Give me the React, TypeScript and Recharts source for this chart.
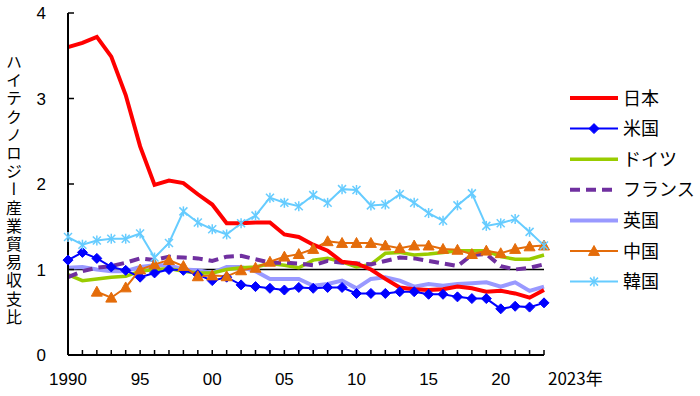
import React from "react";
import { LineChart, Line, XAxis, YAxis, ReferenceLine } from "recharts";

const years = [1990,1991,1992,1993,1994,1995,1996,1997,1998,1999,2000,2001,2002,2003,2004,2005,2006,2007,2008,2009,2010,2011,2012,2013,2014,2015,2016,2017,2018,2019,2020,2021,2022,2023];
const japan = [3.60,3.65,3.72,3.49,3.04,2.44,1.99,2.04,2.01,1.88,1.76,1.54,1.54,1.55,1.55,1.41,1.38,1.29,1.22,1.09,1.07,1.00,0.89,0.79,0.77,0.76,0.77,0.80,0.78,0.74,0.75,0.72,0.67,0.76];
const us = [1.11,1.20,1.13,1.03,0.99,0.91,0.96,1.00,0.99,0.94,0.87,0.91,0.82,0.80,0.78,0.76,0.79,0.78,0.79,0.79,0.72,0.72,0.72,0.74,0.74,0.71,0.71,0.68,0.66,0.66,0.54,0.57,0.56,0.61];
const germany = [0.94,0.87,0.89,0.91,0.92,0.98,1.00,1.01,0.98,0.96,0.96,1.00,1.02,1.03,1.07,1.05,1.02,1.11,1.13,1.09,1.03,1.06,1.19,1.20,1.17,1.18,1.20,1.22,1.22,1.22,1.15,1.12,1.12,1.17];
const france = [0.91,0.98,1.02,1.04,1.08,1.13,1.11,1.15,1.14,1.13,1.10,1.15,1.16,1.12,1.08,1.08,1.07,1.05,1.10,1.08,1.07,1.06,1.10,1.14,1.13,1.10,1.07,1.04,1.17,1.18,1.04,1.00,1.02,1.06];
const uk = [1.02,1.03,1.00,0.98,0.98,1.03,1.05,1.05,1.00,0.99,0.96,1.03,1.03,0.98,0.89,0.89,0.89,0.81,0.83,0.87,0.78,0.89,0.91,0.87,0.80,0.83,0.81,0.83,0.84,0.85,0.80,0.85,0.75,0.80];
const china = [null,null,0.74,0.67,0.79,1.00,1.06,1.11,1.04,0.92,0.93,0.92,0.99,1.02,1.09,1.15,1.18,1.24,1.33,1.31,1.31,1.31,1.28,1.25,1.28,1.28,1.24,1.23,1.18,1.22,1.19,1.24,1.27,1.28];
const korea = [1.38,1.29,1.34,1.36,1.36,1.42,1.14,1.31,1.68,1.55,1.47,1.41,1.54,1.63,1.84,1.78,1.74,1.87,1.78,1.94,1.93,1.75,1.76,1.88,1.78,1.66,1.57,1.75,1.89,1.51,1.54,1.59,1.44,1.28];

const yTicks = [0, 1, 2, 3, 4];
const labeledYears = [1990, 1995, 2000, 2005, 2010, 2015, 2020];
const lastYearLabel = "2023年";
const yTitle = "ハイテクノロジー産業貿易収支比";

const data = years.map((y, i) => ({
  year: y,
  japan: japan[i],
  us: us[i],
  germany: germany[i],
  france: france[i],
  uk: uk[i],
  china: china[i],
  korea: korea[i],
}));

const NUM_FONT = "'Liberation Sans', Arial, sans-serif";
const JP_FONT = "'Noto Sans CJK JP', sans-serif";

const C = {
  japan: "#ff0000",
  us: "#0000ff",
  germany: "#99cc00",
  france: "#7030a0",
  uk: "#9999ff",
  china: "#e46c0a",
  korea: "#66ccff",
};

const Diamond = ({ cx, cy, s = 5, color }: any) => (
  <polygon points={`${cx},${cy - s} ${cx + s},${cy} ${cx},${cy + s} ${cx - s},${cy}`} fill={color} stroke={color} />
);
const Triangle = ({ cx, cy, s = 5.5, color }: any) => (
  <polygon points={`${cx},${cy - s} ${cx + s},${cy + s * 0.8} ${cx - s},${cy + s * 0.8}`} fill={color} stroke={color} />
);
const Star = ({ cx, cy, s = 4, color }: any) => (
  <g stroke={color} strokeWidth={1.5}>
    <line x1={cx - s} y1={cy - s} x2={cx + s} y2={cy + s} />
    <line x1={cx - s} y1={cy + s} x2={cx + s} y2={cy - s} />
    <line x1={cx} y1={cy - s - 1} x2={cx} y2={cy + s + 1} />
  </g>
);

const dotFn = (Comp: any, color: string) => (props: any) => {
  const { cx, cy, key, index } = props;
  if (cx == null || cy == null || props.value == null) return <g key={key ?? index} />;
  return (
    <g key={key ?? index}>
      <Comp cx={cx} cy={cy} color={color} />
    </g>
  );
};

const XTick = (props: any) => {
  const { x, y, payload } = props;
  const v = payload.value as number;
  let label: string | null = null;
  if (labeledYears.includes(v)) label = v === 1990 ? "1990" : String(v % 100).padStart(2, "0");
  return (
    <g>
      <line x1={x} x2={x} y1={y} y2={y - 5} stroke="#000" strokeWidth={1.5} />
      {label && (
        <text x={x} y={y + 30} textAnchor="middle" fontFamily={NUM_FONT} fontSize={17} fill="#000">
          {label}
        </text>
      )}
      {v === 2023 && (
        <text x={x + 4} y={y + 30} textAnchor="start" fontFamily={JP_FONT} fontSize={17} fill="#000">
          {lastYearLabel}
        </text>
      )}
    </g>
  );
};

const YTick = (props: any) => {
  const { x, y, payload } = props;
  return (
    <g>
      <line x1={x} x2={x + 6} y1={y} y2={y} stroke="#000" strokeWidth={1.5} />
      <text x={x - 22} y={y + 6} textAnchor="end" fontFamily={NUM_FONT} fontSize={17} fill="#000">
        {payload.value}
      </text>
    </g>
  );
};

const legendItems = [
  { name: "日本", color: C.japan, width: 4, dash: undefined, marker: null },
  { name: "米国", color: C.us, width: 2, dash: undefined, marker: Diamond },
  { name: "ドイツ", color: C.germany, width: 3.5, dash: undefined, marker: null },
  { name: "フランス", color: C.france, width: 4, dash: "10 6", marker: null },
  { name: "英国", color: C.uk, width: 4, dash: undefined, marker: null },
  { name: "中国", color: C.china, width: 2, dash: undefined, marker: Triangle },
  { name: "韓国", color: C.korea, width: 2, dash: undefined, marker: Star },
];

export default function App() {
  return (
    <div style={{ position: "absolute", left: 0, top: 0, width: 700, height: 396, background: "#fff" }}>
      <LineChart width={700} height={396} data={data} margin={{ top: 13, right: 156, bottom: 11, left: 18 }}>
        <XAxis
          dataKey="year"
          type="number"
          domain={[1990, 2023]}
          ticks={years}
          interval={0}
          tick={<XTick />}
          tickLine={false}
          tickSize={0}
          tickMargin={0}
          height={30}
          axisLine={{ stroke: "#000", strokeWidth: 2 }}
        />
        <YAxis
          type="number"
          domain={[0, 4]}
          ticks={yTicks}
          interval={0}
          tick={<YTick />}
          tickLine={false}
          tickSize={0}
          tickMargin={0}
          width={50}
          axisLine={{ stroke: "#000", strokeWidth: 2 }}
        />
        <ReferenceLine y={1} stroke="#000" strokeWidth={1.5} />
        <Line dataKey="uk" stroke={C.uk} strokeWidth={4} dot={false} isAnimationActive={false} />
        <Line dataKey="germany" stroke={C.germany} strokeWidth={3.5} dot={false} isAnimationActive={false} />
        <Line dataKey="france" stroke={C.france} strokeWidth={4} strokeDasharray="10 6" dot={false} isAnimationActive={false} />
        <Line dataKey="us" stroke={C.us} strokeWidth={2} dot={dotFn(Diamond, C.us)} isAnimationActive={false} />
        <Line dataKey="china" stroke={C.china} strokeWidth={2} dot={dotFn(Triangle, C.china)} isAnimationActive={false} />
        <Line dataKey="korea" stroke={C.korea} strokeWidth={2} dot={dotFn(Star, C.korea)} isAnimationActive={false} />
        <Line dataKey="japan" stroke={C.japan} strokeWidth={4} dot={false} isAnimationActive={false} />
      </LineChart>
      <svg width={700} height={396} style={{ position: "absolute", left: 0, top: 0, pointerEvents: "none" }}>
        {legendItems.map((it, i) => {
          const y = 98 + i * 30.6;
          const M = it.marker as any;
          return (
            <g key={it.name}>
              <line x1={570} x2={618} y1={y} y2={y} stroke={it.color} strokeWidth={it.width} strokeDasharray={it.dash} />
              {M && <M cx={594} cy={y} color={it.color} />}
              <text x={623} y={y + 6.5} fontFamily={JP_FONT} fontSize={18} fill="#000">
                {it.name}
              </text>
            </g>
          );
        })}
      </svg>
      <div
        style={{
          position: "absolute",
          left: 6,
          top: 54,
          writingMode: "vertical-rl",
          fontFamily: JP_FONT,
          fontSize: 16,
          lineHeight: "16px",
          letterSpacing: "2.2px",
          color: "#000",
        }}
      >
        {yTitle}
      </div>
    </div>
  );
}
